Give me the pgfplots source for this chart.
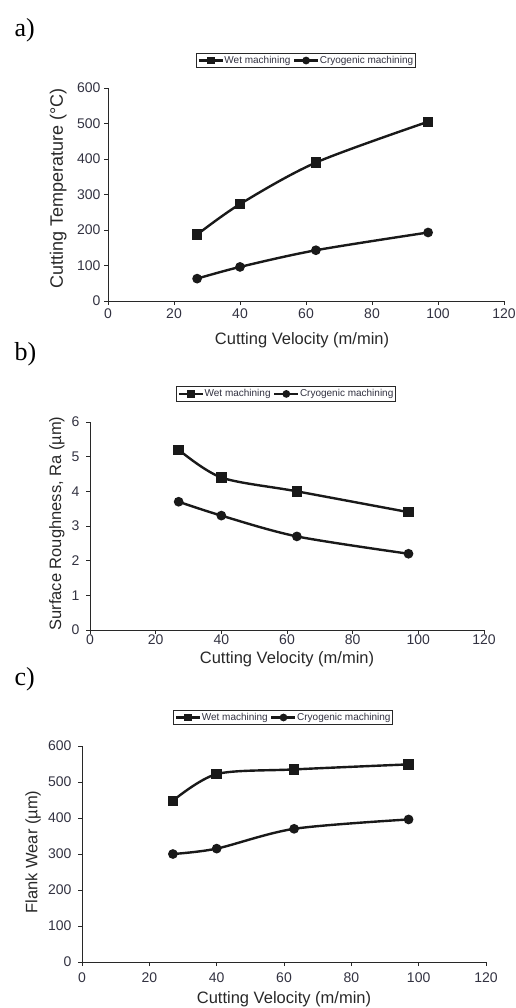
\documentclass[border=0pt]{standalone}
\usepackage{pgfplots}
\pgfplotsset{compat=1.18}
\usepackage{fontspec}
\setmainfont{Liberation Sans}
\newfontfamily\seriffont{Liberation Serif}
\definecolor{tickc}{RGB}{50,50,65}
\definecolor{axc}{RGB}{40,40,40}
\pgfplotsset{
  panel/.style={
    scale only axis,
    axis x line*=bottom, axis y line*=left,
    tick align=outside, major tick length=4pt,
    every tick/.style={axc, line width=0.8pt},
    axis line style={axc, line width=1pt},
    xmin=0, xmax=120, xtick={0,20,...,120}, ymin=0,
    ticklabel style={font=\fontsize{14}{15}\selectfont, text=tickc},
    /pgf/number format/assume math mode=true,
    label style={font=\fontsize{16.5}{18}\selectfont, text=axc},
    legend columns=2,
    legend style={draw=axc, line width=0.8pt, font=\fontsize{10}{11}\selectfont,
      text=tickc, inner xsep=1.5pt, inner ysep=1.2pt, anchor=center,
      nodes={inner xsep=0.5pt, inner ysep=1.5pt},
      /tikz/every even column/.append style={column sep=2pt}},
    legend image code/.code={\draw[mark repeat=2,mark phase=2,##1,line width=2.4pt,mark size=2.6pt]
      plot coordinates {(0pt,0pt) (12pt,0pt) (24pt,0pt)};},
  },
  wet/.style={black!90, line width=2.4pt, smooth, tension=0.5, mark=square*, mark size=4pt},
  cryo/.style={black!90, line width=2.4pt, smooth, tension=0.5, mark=*, mark size=3.6pt},
}
\begin{document}
\begin{tikzpicture}
\path[use as bounding box] (0pt,0pt) rectangle (516pt,-1008pt);
\node[anchor=base west, font=\seriffont\fontsize{26}{28}\selectfont] at (11pt,-37pt) {a)};
\node[anchor=base west, font=\seriffont\fontsize{26}{28}\selectfont] at (11pt,-360pt) {b)};
\node[anchor=base west, font=\seriffont\fontsize{26}{28}\selectfont] at (11pt,-685pt) {c)};

% panel a
\begin{axis}[panel, at={(108pt,-301pt)}, anchor=south west, width=396pt, height=213pt,
  ymax=600, ytick={0,100,...,600},
  xlabel={Cutting Velocity (m/min)},
  ylabel={Cutting Temperature (°C)},
  x label style={at={(axis description cs:0.49,-0.183)}, anchor=center},
  y label style={at={(axis description cs:-0.126,0.528)}, anchor=center, font=\fontsize{18}{19}\selectfont},
  legend style={at={(axis description cs:0.499,1.129)}},
]
\addplot[wet] coordinates {(27,187) (40,273) (63,390) (97,505)};
\addlegendentry{Wet machining}
\addplot[cryo] coordinates {(27,63) (40,96) (63,143) (97,193)};
\addlegendentry{Cryogenic machining}
\end{axis}

% panel b
\begin{axis}[panel, at={(90pt,-630pt)}, anchor=south west, width=394pt, height=208pt,
  ymax=6, ytick={0,1,...,6},
  yticklabel style={xshift=-3pt},
  xticklabel style={yshift=2.5pt},
  xlabel={Cutting Velocity (m/min)},
  ylabel={Surface Roughness, Ra (µm)},
  x label style={at={(axis description cs:0.5,-0.14)}, anchor=center},
  y label style={at={(axis description cs:-0.084,0.512)}, anchor=center},
  legend style={at={(axis description cs:0.497,1.135)}},
]
\addplot[wet] coordinates {(27,5.2) (40,4.4) (63,4.0) (97,3.4)};
\addlegendentry{Wet machining}
\addplot[cryo] coordinates {(27,3.7) (40,3.3) (63,2.7) (97,2.2)};
\addlegendentry{Cryogenic machining}
\end{axis}

% panel c
\begin{axis}[panel, at={(82pt,-962pt)}, anchor=south west, width=404pt, height=216pt,
  ymax=600, ytick={0,100,...,600},
  yticklabel style={xshift=-3pt},
  xticklabel style={yshift=-3pt},
  xlabel={Cutting Velocity (m/min)},
  ylabel={Flank Wear (µm)},
  x label style={at={(axis description cs:0.5,-0.171)}, anchor=center},
  y label style={at={(axis description cs:-0.121,0.509)}, anchor=center},
  legend style={at={(axis description cs:0.4975,1.132)}},
]
\addplot[wet] coordinates {(27,448) (40,522) (63,535) (97,549)};
\addlegendentry{Wet machining}
\addplot[cryo] coordinates {(27,300) (40,315) (63,370) (97,396)};
\addlegendentry{Cryogenic machining}
\end{axis}
\end{tikzpicture}
\end{document}
